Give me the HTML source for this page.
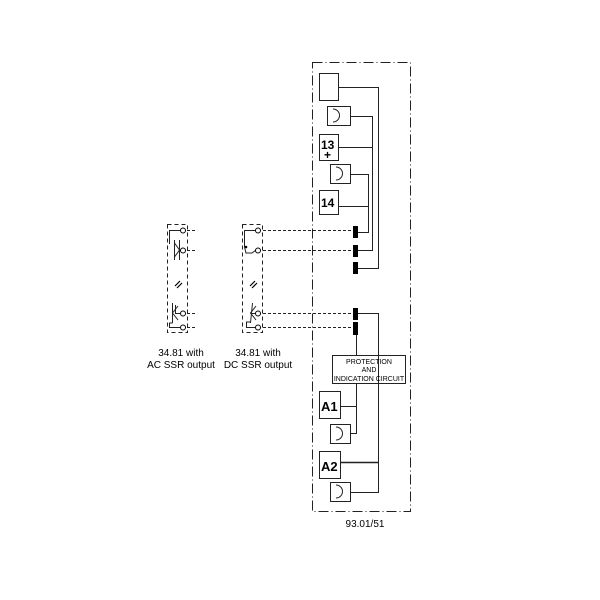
<!DOCTYPE html>
<html><head><meta charset="utf-8"><style>
html,body{margin:0;padding:0;background:#fff;}
svg{display:block;}
text{font-family:"Liberation Sans",sans-serif;fill:#000;}
</style></head><body>
<svg width="600" height="600" viewBox="0 0 600 600" xmlns="http://www.w3.org/2000/svg">
<g fill="none" stroke="#222" stroke-width="1">
<rect x="312.5" y="62.5" width="98" height="449" stroke-dasharray="10,3,1,3"/>
<rect x="319.5" y="73.5" width="19" height="27"/>
<rect x="327.5" y="106.5" width="23" height="19"/>
<path d="M333,109 a6,6 0 0 1 0,13"/>
<rect x="319.5" y="134.5" width="19" height="26"/>
<rect x="330.5" y="164.5" width="20" height="19"/>
<path d="M336,167 a6,6 0 0 1 0,13"/>
<rect x="319.5" y="190.5" width="19" height="24"/>
<polyline points="338.5,87.5 378.5,87.5 378.5,268.5 358,268.5"/>
<polyline points="350.5,116.5 372.5,116.5 372.5,250.5 358,250.5"/>
<line x1="338.5" y1="147.5" x2="372.5" y2="147.5"/>
<polyline points="350.5,174.5 368.5,174.5 368.5,232.5 358,232.5"/>
<line x1="338.5" y1="206.5" x2="368.5" y2="206.5"/>
<polyline points="358,313.5 378.5,313.5 378.5,492.5 350.5,492.5"/>
<line x1="356.5" y1="335" x2="356.5" y2="355"/>
<rect x="332.5" y="355.5" width="73" height="28"/>
<polyline points="356.5,383.5 356.5,433.5 350.5,433.5"/>
<rect x="319.5" y="391.5" width="21" height="27"/>
<line x1="340.5" y1="406.5" x2="356.5" y2="406.5"/>
<rect x="330.5" y="424.5" width="20" height="19"/>
<path d="M336,427 a6,6 0 0 1 0,13"/>
<rect x="319.5" y="451.5" width="21" height="27"/>
<line x1="340.5" y1="462.5" x2="378.5" y2="462.5" stroke-width="1.5"/>
<rect x="330.5" y="482.5" width="20" height="19"/>
<path d="M336,485 a6,6 0 0 1 0,13"/>
<rect x="167.5" y="224.5" width="20" height="108" stroke-dasharray="4,3"/>
<rect x="242.5" y="224.5" width="20" height="108" stroke-dasharray="4,3"/>
<g stroke-dasharray="3,2">
<line x1="263" y1="230.5" x2="353" y2="230.5"/>
<line x1="263" y1="250.5" x2="353" y2="250.5"/>
<line x1="263" y1="313.5" x2="353" y2="313.5"/>
<line x1="263" y1="327.5" x2="353" y2="327.5"/>
<line x1="187" y1="230.5" x2="197" y2="230.5"/>
<line x1="187" y1="250.5" x2="197" y2="250.5"/>
<line x1="187" y1="313.5" x2="197" y2="313.5"/>
<line x1="187" y1="327.5" x2="197" y2="327.5"/>
</g>
<polyline points="180,230.5 169.5,230.5 169.5,244"/>
<line x1="174.5" y1="240" x2="174.5" y2="260"/>
<line x1="179.5" y1="240" x2="179.5" y2="260"/>
<path d="M174.5,243 L179.5,250 L174.5,257"/>
<line x1="179.5" y1="250.5" x2="181" y2="250.5"/>
<polyline points="180,313.5 175.5,313.5 175.5,305"/>
<line x1="172.5" y1="303" x2="172.5" y2="323"/>
<path d="M178,306 L172.5,313 L178,320"/>
<polyline points="172.5,323 169.5,323 169.5,327.5 180,327.5"/>
<polyline points="255,230.5 244.5,230.5 244.5,247"/>
<path d="M244.5,247 L246,253 L252,253 L256,250"/>
<line x1="252.5" y1="303" x2="250.5" y2="323"/>
<path d="M256,306 L250.5,313 L256,320"/>
<line x1="250.5" y1="313.5" x2="255" y2="313.5"/>
<polyline points="250.5,322 246.5,322 246.5,327.5 255,327.5"/>
</g>
<g fill="#fff" stroke="#000">
<circle cx="183" cy="230.5" r="2.5"/><circle cx="183" cy="250.5" r="2.5"/>
<circle cx="183" cy="313.5" r="2.5"/><circle cx="183" cy="327.5" r="2.5"/>
<circle cx="258" cy="230.5" r="2.5"/><circle cx="258" cy="250.5" r="2.5"/>
<circle cx="258" cy="313.5" r="2.5"/><circle cx="258" cy="327.5" r="2.5"/>
</g>
<circle cx="246" cy="247" r="1.3" fill="#000"/>
<g stroke="#000" stroke-width="1.2">
<line x1="175" y1="286" x2="180" y2="281"/><line x1="177" y1="288" x2="182" y2="283"/>
<line x1="250" y1="286" x2="255" y2="281"/><line x1="252" y1="288" x2="257" y2="283"/>
</g>
<g fill="#000">
<rect x="353" y="226" width="5" height="12"/>
<rect x="353" y="245" width="5" height="12"/>
<rect x="353" y="262" width="5" height="12"/>
<rect x="353" y="308" width="5" height="12"/>
<rect x="353" y="322" width="5" height="13"/>
</g>
<g font-weight="bold">
<text x="321" y="149" font-size="12">13</text>
<text x="324" y="159" font-size="12">+</text>
<text x="321" y="207" font-size="12">14</text>
<text x="321" y="411" font-size="13">A1</text>
<text x="321" y="471" font-size="13">A2</text>
</g>
<g font-size="7" text-anchor="middle">
<text x="369" y="364">PROTECTION</text>
<text x="369" y="372">AND</text>
<text x="369" y="381">INDICATION CIRCUIT</text>
</g>
<g font-size="10" text-anchor="middle">
<text x="181" y="356">34.81 with</text>
<text x="181" y="368">AC SSR output</text>
<text x="258" y="356">34.81 with</text>
<text x="258" y="368">DC SSR output</text>
<text x="365" y="527">93.01/51</text>
</g>
</svg>
</body></html>
